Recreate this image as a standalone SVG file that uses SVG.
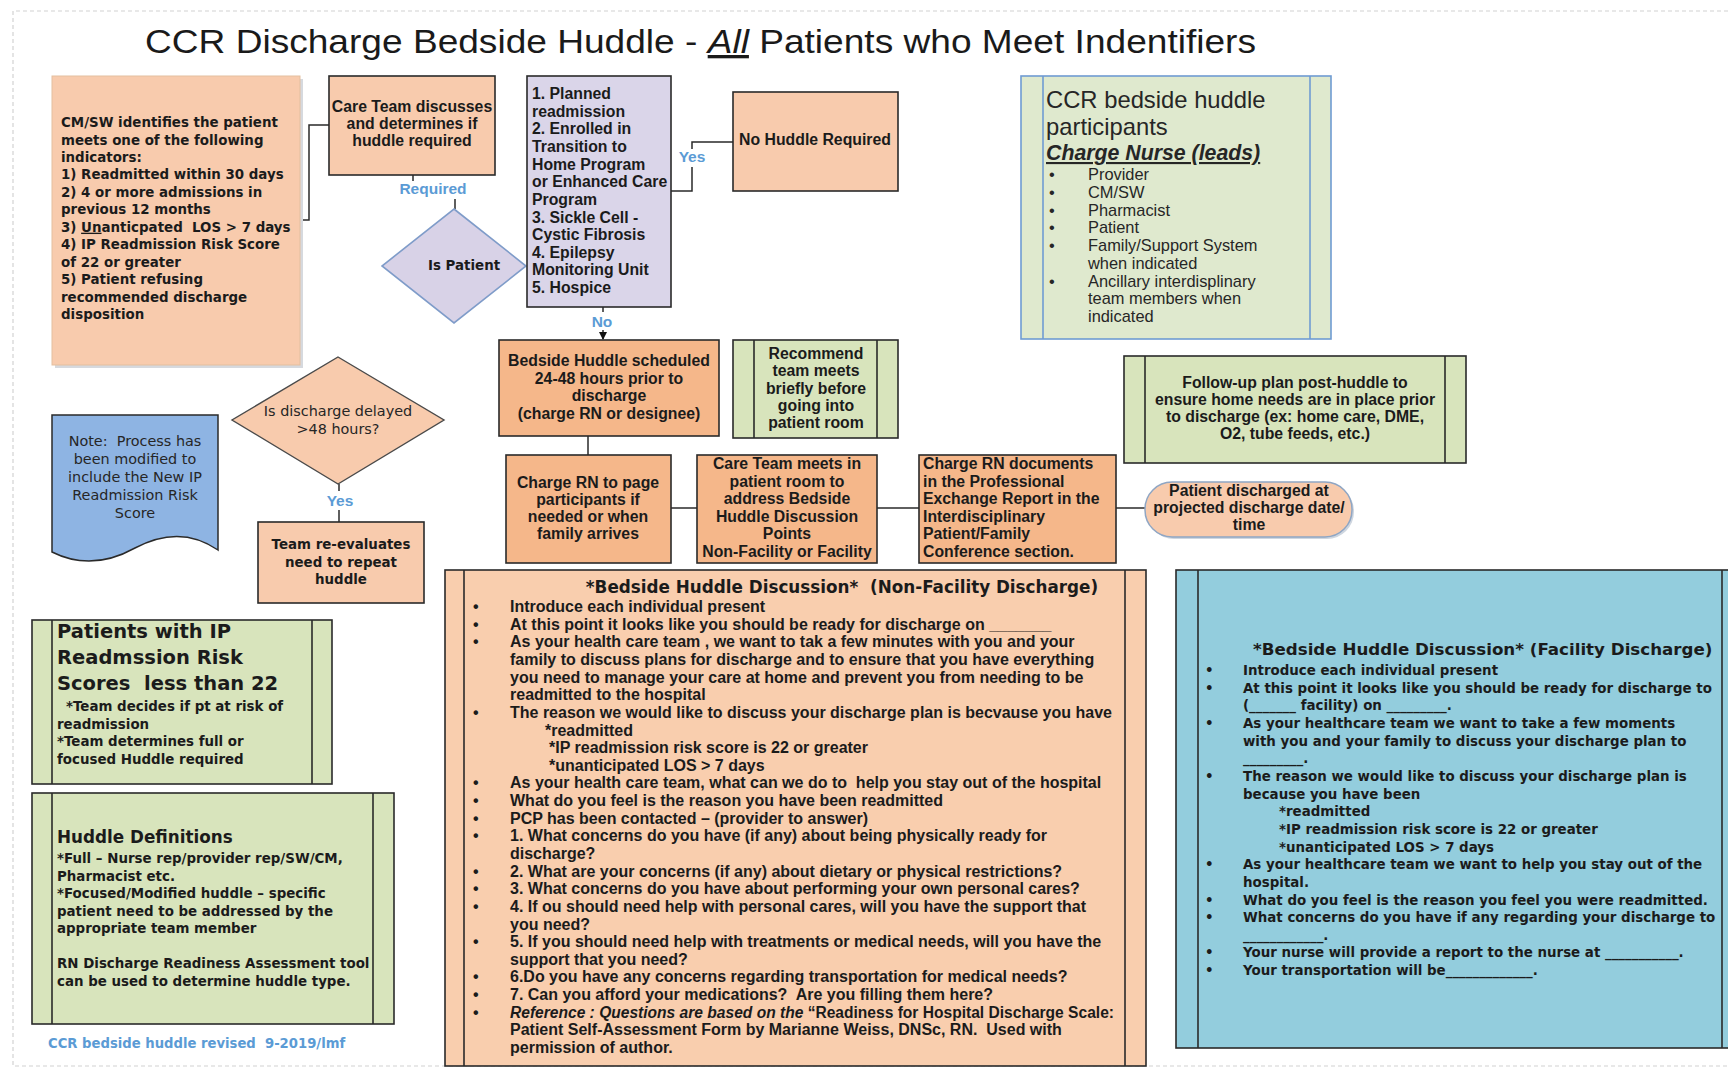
<svg xmlns="http://www.w3.org/2000/svg" width="1728" height="1070" viewBox="0 0 1728 1070">
<defs>
<style>
.vb{font-family:"DejaVu Sans",Verdana,sans-serif;font-weight:bold;font-size:13.4px;fill:#1b1b1b}
.vr{font-family:"DejaVu Sans",Verdana,sans-serif;font-size:14.4px;fill:#262626}
.cb{font-family:"Liberation Sans",Arial,sans-serif;font-weight:bold;font-size:15.8px;fill:#1b1b1b}
.nb{font-family:"Liberation Sans",Arial,sans-serif;font-weight:bold;font-size:16px;fill:#1b1b1b}
.cr{font-family:"Liberation Sans",Arial,sans-serif;font-size:16.4px;fill:#262626}
.lbl{font-family:"Liberation Sans",Arial,sans-serif;font-weight:bold;font-size:15.5px;fill:#5B9BD5;text-anchor:middle}
.hd{font-family:"DejaVu Sans",Verdana,sans-serif;font-weight:bold;font-size:16.8px;fill:#1b1b1b}
.m{text-anchor:middle}
.bx{stroke:#2a2a2a;stroke-width:1.6}
.pl{fill:#F8CBAD}
.pd{fill:#F5B78A}
.gr{fill:#D8E4BC}
.ln{fill:none;stroke:#2a2a2a;stroke-width:1.5}
.in{stroke:#2a2a2a;stroke-width:1.6}
</style>
<marker id="ah" markerWidth="8" markerHeight="8" refX="7" refY="4" orient="auto" markerUnits="userSpaceOnUse"><path d="M0,0 L8,4 L0,8 Z" fill="#111"/></marker>
</defs>
<rect width="1728" height="1070" fill="#fff"/>
<path d="M1728,11 H13 V1066 H1728" fill="none" stroke="#d2d2d2" stroke-width="1.2" stroke-dasharray="4 3"/>

<text x="145" y="53" font-family="Liberation Sans, Arial, sans-serif" font-size="33" fill="#1a1a1a" textLength="1111" lengthAdjust="spacingAndGlyphs">CCR Discharge Bedside Huddle - <tspan font-style="italic" style="text-decoration:underline">All</tspan> Patients who Meet Indentifiers</text>

<g id="connectors">
 <path class="ln" d="M300,220 H309 V125 H329"/>
 <path class="ln" d="M413,175 V190 H455 V209"/>
 <path class="ln" d="M671,191 H692 V142 H733"/>
 <path class="ln" d="M603,307 V339" marker-end="url(#ah)"/>
 <path class="ln" d="M339,484 V522"/>
 <path class="ln" d="M588,436 V455"/>
 <path class="ln" d="M671,508 H697"/>
 <path class="ln" d="M877,508 H919"/>
 <path class="ln" d="M1116,508 H1145"/>
 <rect x="396" y="181" width="74" height="18" fill="#fff"/>
 <text class="lbl" x="433" y="194">Required</text>
 <rect x="679" y="149" width="27" height="18" fill="#fff"/>
 <text class="lbl" x="692" y="162">Yes</text>
 <rect x="588" y="312" width="28" height="18" fill="#fff"/>
 <text class="lbl" x="602" y="327">No</text>
 <rect x="326" y="491" width="28" height="19" fill="#fff"/>
 <text class="lbl" x="340" y="506">Yes</text>
</g>

<g id="cmsw">
 <rect x="55" y="79" width="248" height="289" fill="#d6d9de"/>
 <rect x="52" y="76" width="248" height="289" class="pl" stroke="#e3bf9f" stroke-width="1"/>
 <text class="vb" x="61" y="127">CM/SW identifies the patient</text>
 <text class="vb" x="61" y="144.5">meets one of the following</text>
 <text class="vb" x="61" y="161.9">indicators:</text>
 <text class="vb" x="61" y="179.4">1) Readmitted within 30 days</text>
 <text class="vb" x="61" y="196.8">2) 4 or more admissions in</text>
 <text class="vb" x="61" y="214.3">previous 12 months</text>
 <text class="vb" x="61" y="231.7" xml:space="preserve">3) <tspan style="text-decoration:underline">Un</tspan>anticpated  LOS &gt; 7 days</text>
 <text class="vb" x="61" y="249.2">4) IP Readmission Risk Score</text>
 <text class="vb" x="61" y="266.6">of 22 or greater</text>
 <text class="vb" x="61" y="284.1">5) Patient refusing</text>
 <text class="vb" x="61" y="301.5">recommended discharge</text>
 <text class="vb" x="61" y="319">disposition</text>
</g>

<g id="careTeam">
 <rect x="329" y="76" width="166" height="99" class="pl bx"/>
 <text class="cb m" x="412" y="112">Care Team discusses</text>
 <text class="cb m" x="412" y="129">and determines if</text>
 <text class="cb m" x="412" y="146">huddle required</text>
</g>

<g id="isPatient">
 <polygon points="454,209 526,266 454,323 382,266" fill="#D8D2E7" stroke="#7F9CC9" stroke-width="1.6"/>
 <text class="vb" x="428" y="270">Is Patient</text>
</g>

<g id="criteria">
 <rect x="527" y="76" width="144" height="231" fill="#DAD5E9" class="bx"/>
 <text class="cb" x="532" y="99">1. Planned</text>
 <text class="cb" x="532" y="116.6">readmission</text>
 <text class="cb" x="532" y="134.3">2. Enrolled in</text>
 <text class="cb" x="532" y="151.9">Transition to</text>
 <text class="cb" x="532" y="169.6">Home Program</text>
 <text class="cb" x="532" y="187.2">or Enhanced Care</text>
 <text class="cb" x="532" y="204.8">Program</text>
 <text class="cb" x="532" y="222.5">3. Sickle Cell -</text>
 <text class="cb" x="532" y="240.1">Cystic Fibrosis</text>
 <text class="cb" x="532" y="257.8">4. Epilepsy</text>
 <text class="cb" x="532" y="275.4">Monitoring Unit</text>
 <text class="cb" x="532" y="293">5. Hospice</text>
</g>

<g id="noHuddle">
 <rect x="733" y="92" width="165" height="99" class="pl bx"/>
 <text class="cb m" x="815" y="145">No Huddle Required</text>
</g>

<g id="participants">
 <rect x="1021" y="76" width="310" height="263" fill="#DFE9CE" stroke="#6F9BD3" stroke-width="1.6"/>
 <line x1="1043" y1="76" x2="1043" y2="339" stroke="#6F9BD3" stroke-width="1.6"/>
 <line x1="1310" y1="76" x2="1310" y2="339" stroke="#6F9BD3" stroke-width="1.6"/>
 <text class="cr" x="1046" y="108" style="font-size:23.8px">CCR bedside huddle</text>
 <text class="cr" x="1046" y="135" style="font-size:23.8px">participants</text>
 <text class="cr" x="1046" y="160" style="font-size:21.3px;font-weight:bold;font-style:italic;text-decoration:underline">Charge Nurse (leads)</text>
 <text class="cr" x="1049" y="180">•</text><text class="cr" x="1088" y="180">Provider</text>
 <text class="cr" x="1049" y="197.8">•</text><text class="cr" x="1088" y="197.8">CM/SW</text>
 <text class="cr" x="1049" y="215.5">•</text><text class="cr" x="1088" y="215.5">Pharmacist</text>
 <text class="cr" x="1049" y="233.3">•</text><text class="cr" x="1088" y="233.3">Patient</text>
 <text class="cr" x="1049" y="251">•</text><text class="cr" x="1088" y="251">Family/Support System</text>
 <text class="cr" x="1088" y="268.8">when indicated</text>
 <text class="cr" x="1049" y="286.5">•</text><text class="cr" x="1088" y="286.5">Ancillary interdisplinary</text>
 <text class="cr" x="1088" y="304.3">team members when</text>
 <text class="cr" x="1088" y="322">indicated</text>
</g>

<g id="bedside">
 <rect x="499" y="340" width="220" height="96" class="pd bx"/>
 <text class="cb m" x="609" y="366">Bedside Huddle scheduled</text>
 <text class="cb m" x="609" y="383.5">24-48 hours prior to</text>
 <text class="cb m" x="609" y="401">discharge</text>
 <text class="cb m" x="609" y="418.5">(charge RN or designee)</text>
</g>

<g id="recommend">
 <rect x="733" y="340" width="165" height="98" class="gr bx"/>
 <line x1="754" y1="340" x2="754" y2="438" class="in"/>
 <line x1="877" y1="340" x2="877" y2="438" class="in"/>
 <text class="cb m" x="816" y="359">Recommend</text>
 <text class="cb m" x="816" y="376.3">team meets</text>
 <text class="cb m" x="816" y="393.5">briefly before</text>
 <text class="cb m" x="816" y="410.8">going into</text>
 <text class="cb m" x="816" y="428">patient room</text>
</g>

<g id="followUp">
 <rect x="1124" y="356" width="342" height="107" class="gr bx"/>
 <line x1="1145" y1="356" x2="1145" y2="463" class="in"/>
 <line x1="1445" y1="356" x2="1445" y2="463" class="in"/>
 <text class="cb m" x="1295" y="388">Follow-up plan post-huddle to</text>
 <text class="cb m" x="1295" y="405">ensure home needs are in place prior</text>
 <text class="cb m" x="1295" y="422">to discharge (ex: home care, DME,</text>
 <text class="cb m" x="1295" y="439">O2, tube feeds, etc.)</text>
</g>

<g id="isDelayed">
 <polygon points="338,357 444,420 338,484 232,420" class="pl" stroke="#4a4a4a" stroke-width="1.4"/>
 <text class="vr m" x="338" y="416">Is discharge delayed</text>
 <text class="vr m" x="338" y="434">&gt;48 hours?</text>
</g>

<g id="note">
 <path d="M52,415 H218 V550 C192,532 165,532 135,548 C108,563 80,566 52,552 Z" fill="#8EB4E3" stroke="#2a2a2a" stroke-width="1.5"/>
 <text class="vr m" x="135" y="446" xml:space="preserve">Note:  Process has</text>
 <text class="vr m" x="135" y="464">been modified to</text>
 <text class="vr m" x="135" y="482">include the New IP</text>
 <text class="vr m" x="135" y="500">Readmission Risk</text>
 <text class="vr m" x="135" y="518">Score</text>
</g>

<g id="reevaluate">
 <rect x="258" y="522" width="166" height="81" class="pl bx"/>
 <text class="vb m" x="341" y="549">Team re-evaluates</text>
 <text class="vb m" x="341" y="566.5">need to repeat</text>
 <text class="vb m" x="341" y="584">huddle</text>
</g>

<g id="chargePage">
 <rect x="506" y="455" width="165" height="108" class="pd bx"/>
 <text class="cb m" x="588" y="488">Charge RN to page</text>
 <text class="cb m" x="588" y="505">participants if</text>
 <text class="cb m" x="588" y="522">needed or when</text>
 <text class="cb m" x="588" y="539">family arrives</text>
</g>

<g id="careMeets">
 <rect x="697" y="455" width="180" height="108" class="pd bx"/>
 <text class="cb m" x="787" y="469">Care Team meets in</text>
 <text class="cb m" x="787" y="486.5">patient room to</text>
 <text class="cb m" x="787" y="504">address Bedside</text>
 <text class="cb m" x="787" y="521.5">Huddle Discussion</text>
 <text class="cb m" x="787" y="539">Points</text>
 <text class="cb m" x="787" y="556.5">Non-Facility or Facility</text>
</g>

<g id="chargeDocs">
 <rect x="919" y="455" width="197" height="108" class="pd bx"/>
 <text class="cb" x="923" y="469">Charge RN documents</text>
 <text class="cb" x="923" y="486.5">in the Professional</text>
 <text class="cb" x="923" y="504">Exchange Report in the</text>
 <text class="cb" x="923" y="521.5">Interdisciplinary</text>
 <text class="cb" x="923" y="539">Patient/Family</text>
 <text class="cb" x="923" y="556.5">Conference section.</text>
</g>

<g id="discharged">
 <rect x="1147" y="484" width="207" height="55" rx="27" fill="#cfd6df"/>
 <rect x="1145" y="482" width="207" height="55" rx="27" class="pl" stroke="#8FA6C4" stroke-width="1.5"/>
 <text class="cb m" x="1249" y="496">Patient discharged at</text>
 <text class="cb m" x="1249" y="513">projected discharge date/</text>
 <text class="cb m" x="1249" y="530">time</text>
</g>

<g id="patientsIP">
 <rect x="32" y="620" width="300" height="164" class="gr bx"/>
 <line x1="52" y1="620" x2="52" y2="784" class="in"/>
 <line x1="312" y1="620" x2="312" y2="784" class="in"/>
 <text class="vb" x="57" y="638" style="font-size:19.5px">Patients with IP</text>
 <text class="vb" x="57" y="664" style="font-size:19.5px">Readmssion Risk</text>
 <text class="vb" x="57" y="690" style="font-size:19.5px" xml:space="preserve">Scores  less than 22</text>
 <text class="vb" x="66" y="711">*Team decides if pt at risk of</text>
 <text class="vb" x="57" y="728.5">readmission</text>
 <text class="vb" x="57" y="746">*Team determines full or</text>
 <text class="vb" x="57" y="763.5">focused Huddle required</text>
</g>

<g id="huddleDefs">
 <rect x="32" y="793" width="362" height="231" class="gr bx"/>
 <line x1="52" y1="793" x2="52" y2="1024" class="in"/>
 <line x1="373" y1="793" x2="373" y2="1024" class="in"/>
 <text class="vb" x="57" y="843" style="font-size:16.8px">Huddle Definitions</text>
 <text class="vb" x="57" y="863">*Full – Nurse rep/provider rep/SW/CM,</text>
 <text class="vb" x="57" y="880.5">Pharmacist etc.</text>
 <text class="vb" x="57" y="898">*Focused/Modified huddle – specific</text>
 <text class="vb" x="57" y="915.5">patient need to be addressed by the</text>
 <text class="vb" x="57" y="933">appropriate team member</text>
 <text class="vb" x="57" y="968">RN Discharge Readiness Assessment tool</text>
 <text class="vb" x="57" y="985.5">can be used to determine huddle type.</text>
</g>

<text id="footer" class="vb" x="48" y="1048" style="font-size:13.2px;fill:#5B9BD5" xml:space="preserve">CCR bedside huddle revised  9-2019/lmf</text>

<g id="nonFacility">
 <rect x="445" y="570" width="701" height="496" fill="#F9CEAE" class="bx"/>
 <line x1="464" y1="570" x2="464" y2="1066" class="in"/>
 <line x1="1125" y1="570" x2="1125" y2="1066" class="in"/>
 <text class="hd m" x="842" y="593" xml:space="preserve">*Bedside Huddle Discussion*  (Non-Facility Discharge)</text>
 <g class="nb">
 <text x="473" y="612">•</text><text x="510" y="612">Introduce each individual present</text>
 <text x="473" y="629.6">•</text><text x="510" y="629.6">At this point it looks like you should be ready for discharge on _______</text>
 <text x="473" y="647.3">•</text><text x="510" y="647.3">As your health care team , we want to tak a few minutes with you and your</text>
 <text x="510" y="664.9">family to discuss plans for discharge and to ensure that you have everything</text>
 <text x="510" y="682.6">you need to manage your care at home and prevent you from needing to be</text>
 <text x="510" y="700.2">readmitted to the hospital</text>
 <text x="473" y="717.8">•</text><text x="510" y="717.8">The reason we would like to discuss your discharge plan is becvause you have</text>
 <text x="545" y="735.5">*readmitted</text>
 <text x="549" y="753.1">*IP readmission risk score is 22 or greater</text>
 <text x="549" y="770.8">*unanticipated LOS &gt; 7 days</text>
 <text x="473" y="788.4">•</text><text x="510" y="788.4" xml:space="preserve">As your health care team, what can we do to  help you stay out of the hospital</text>
 <text x="473" y="806">•</text><text x="510" y="806">What do you feel is the reason you have been readmitted</text>
 <text x="473" y="823.7">•</text><text x="510" y="823.7">PCP has been contacted – (provider to answer)</text>
 <text x="473" y="841.3">•</text><text x="510" y="841.3">1. What concerns do you have (if any) about being physically ready for</text>
 <text x="510" y="859">discharge?</text>
 <text x="473" y="876.6">•</text><text x="510" y="876.6">2. What are your concerns (if any) about dietary or physical restrictions?</text>
 <text x="473" y="894.2">•</text><text x="510" y="894.2">3. What concerns do you have about performing your own personal cares?</text>
 <text x="473" y="911.9">•</text><text x="510" y="911.9">4. If ou should need help with personal cares, will you have the support that</text>
 <text x="510" y="929.5">you need?</text>
 <text x="473" y="947.2">•</text><text x="510" y="947.2">5. If you should need help with treatments or medical needs, will you have the</text>
 <text x="510" y="964.8">support that you need?</text>
 <text x="473" y="982.4">•</text><text x="510" y="982.4">6.Do you have any concerns regarding transportation for medical needs?</text>
 <text x="473" y="1000.1">•</text><text x="510" y="1000.1" xml:space="preserve">7. Can you afford your medications?  Are you filling them here?</text>
 <text x="473" y="1017.7">•</text><text x="510" y="1017.7" textLength="604" lengthAdjust="spacingAndGlyphs"><tspan font-style="italic">Reference : Questions are based on the </tspan>“Readiness for Hospital Discharge Scale:</text>
 <text x="510" y="1035.4" xml:space="preserve">Patient Self-Assessment Form by Marianne Weiss, DNSc, RN.  Used with</text>
 <text x="510" y="1053">permission of author.</text>
 </g>
</g>

<g id="facility">
 <rect x="1176" y="570" width="570" height="478" fill="#93CDDD" class="bx"/>
 <line x1="1198" y1="570" x2="1198" y2="1048" class="in"/>
 <line x1="1722" y1="570" x2="1722" y2="1048" class="in"/>
 <text class="hd" x="1253" y="655" style="font-size:16.7px">*Bedside Huddle Discussion* (Facility Discharge)</text>
 <g class="vb">
 <text x="1205" y="675">•</text><text x="1243" y="675">Introduce each individual present</text>
 <text x="1205" y="692.7">•</text><text x="1243" y="692.7">At this point it looks like you should be ready for discharge to</text>
 <text x="1243" y="710.3">(_______ facility) on _________.</text>
 <text x="1205" y="728">•</text><text x="1243" y="728">As your healthcare team we want to take a few moments</text>
 <text x="1243" y="745.6">with you and your family to discuss your discharge plan to</text>
 <text x="1243" y="763.3">_________.</text>
 <text x="1205" y="780.9">•</text><text x="1243" y="780.9">The reason we would like to discuss your discharge plan is</text>
 <text x="1243" y="798.6">because you have been</text>
 <text x="1279" y="816.2">*readmitted</text>
 <text x="1279" y="833.9">*IP readmission risk score is 22 or greater</text>
 <text x="1279" y="851.5">*unanticipated LOS &gt; 7 days</text>
 <text x="1205" y="869.2">•</text><text x="1243" y="869.2">As your healthcare team we want to help you stay out of the</text>
 <text x="1243" y="886.8">hospital.</text>
 <text x="1205" y="904.5">•</text><text x="1243" y="904.5">What do you feel is the reason you feel you were readmitted.</text>
 <text x="1205" y="922.1">•</text><text x="1243" y="922.1">What concerns do you have if any regarding your discharge to</text>
 <text x="1243" y="939.8">____________.</text>
 <text x="1205" y="957.4">•</text><text x="1243" y="957.4">Your nurse will provide a report to the nurse at ___________.</text>
 <text x="1205" y="975.1">•</text><text x="1243" y="975.1">Your transportation will be_____________.</text>
 </g>
</g>
</svg>
